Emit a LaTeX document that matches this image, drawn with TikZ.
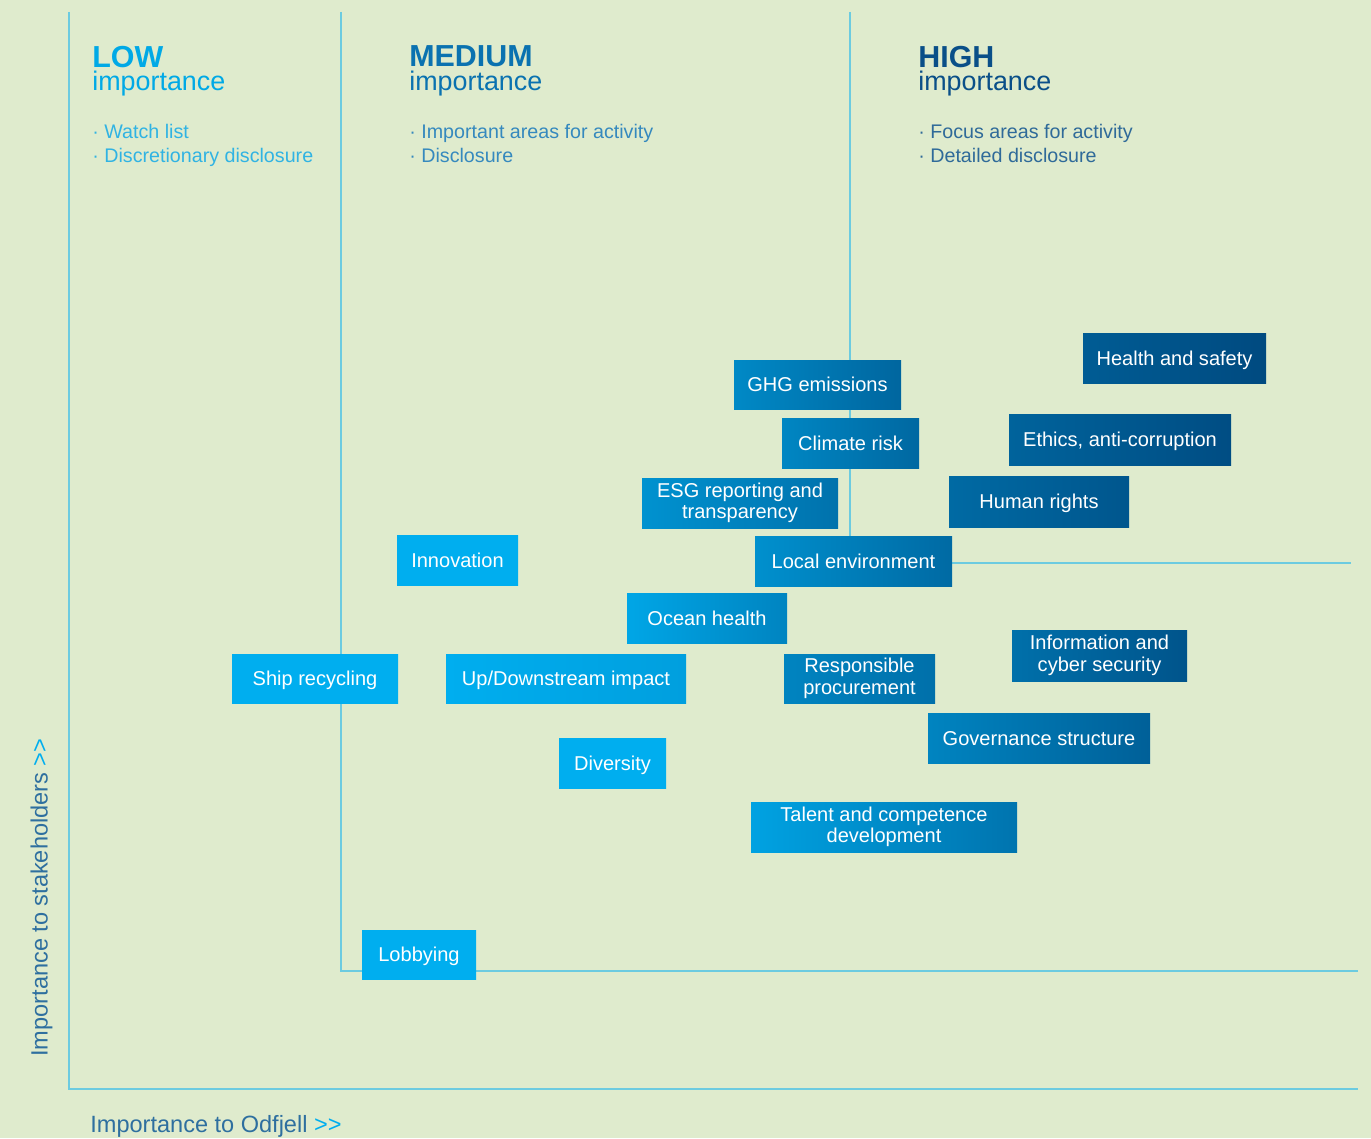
\documentclass[tikz,border=0pt]{standalone}
\usepackage{fontspec}
\setmainfont{Liberation Sans}

\definecolor{bgGreen}{HTML}{DFEBCD}
\definecolor{gridCyan}{HTML}{6CCBE0}
\definecolor{cyanBox}{HTML}{00AEEF}
\definecolor{darkBox}{HTML}{004A80}
\definecolor{lowBlue}{HTML}{00A9E6}
\definecolor{lowText}{HTML}{30B3E3}
\definecolor{medBlue}{HTML}{0A72B0}
\definecolor{medText}{HTML}{3589BE}
\definecolor{highBlue}{HTML}{0A4F88}
\definecolor{highText}{HTML}{2F6A99}
\definecolor{axisText}{HTML}{2E6F9F}

\newcommand{\boxFont}{\fontsize{11.4}{12.3}\selectfont}
\newcommand{\headFont}{\fontsize{17.3}{18}\selectfont\bfseries}
\newcommand{\subFont}{\fontsize{15.3}{13.6}\selectfont}
\newcommand{\itemFont}{\fontsize{11.2}{12}\selectfont}
\newcommand{\axisFont}{\fontsize{13.4}{14}\selectfont}
\newcommand{\moreArrows}{\textcolor{cyanBox}{>{}>}}

\begin{document}
\begin{tikzpicture}
[x=0.02cm, y=-0.02cm,
  gridLine/.style={draw=gridCyan, line width=1.1pt},
  boxDecorate/.style={inner sep=0pt, text=white, align=center, font=\boxFont},
  oneLine/.style={text depth=0pt},
  twoLine/.style={},
  headDecorate/.style={anchor=north west, inner sep=0pt, align=left, font=\subFont},
  itemDecorate/.style={anchor=base west, inner sep=0pt, font=\itemFont},
  axisLabel/.style={anchor=base west, inner sep=0pt, text=axisText, font=\axisFont}]
%% background
\fill[bgGreen] (0,0) rectangle (1371,1138);
%% region borders
\coordinate (axisTop) at (69,12);
\coordinate (axisEnd) at (1358,1089);
\coordinate (midTop) at (341,12);
\coordinate (midEnd) at (1358,971);
\coordinate (highTop) at (850,12);
\coordinate (highEnd) at (1351,563);
\draw[gridLine] (axisTop) |- (axisEnd);
\draw[gridLine] (midTop) |- (midEnd);
\draw[gridLine] (highTop) |- (highEnd);
%% column headings
\foreach \colname/\x/\headcol/\bulletcol/\head/\itemA/\itemB in {
  low/92/lowBlue/lowText/LOW/{Watch list}/{Discretionary disclosure},
  medium/409/medBlue/medText/MEDIUM/{Important areas for activity}/{Disclosure},
  high/918/highBlue/highText/HIGH/{Focus areas for activity}/{Detailed disclosure}}
{
  \node (\colname Head) at (\x,45.5) [headDecorate, text=\headcol] {{\headFont\head}\\importance};
  \node (\colname ItemA) at (\x,138.5) [itemDecorate, text=\bulletcol] {· \itemA};
  \node (\colname ItemB) at (\x,162.5) [itemDecorate, text=\bulletcol] {· \itemB};
}
%% topics
\foreach \boxname/\cx/\cy/\bw/\bh/\lft/\rgt/\lines/\boxtext in {
  ghg/817.5/384.5/167/49/37/72/oneLine/{GHG emissions},
  climate/850.5/443/137/50/40/70/oneLine/{Climate risk},
  esg/740/503/196/50/28/60/twoLine/{ESG reporting and\\transparency},
  localEnv/853.5/561/197/50/30/68/oneLine/{Local environment},
  ocean/707/618/160/50/8/42/oneLine/{Ocean health},
  procurement/859.5/678.5/151/49/42/62/twoLine/{Responsible\\procurement},
  upDown/566/678.5/240/49/0/15/oneLine/{Up/Downstream impact},
  shipRecycling/315/678.5/166/49/0/0/oneLine/{Ship recycling},
  innovation/457.5/560/121/50/0/0/oneLine/{Innovation},
  diversity/612.5/763/107/50/0/0/oneLine/{Diversity},
  talent/884/827/266/50/12/58/twoLine/{Talent and competence\\development},
  governance/1039/738/222/50/42/78/oneLine/{Governance structure},
  infoSecurity/1099.5/655.5/175/51/62/90/twoLine/{Information and\\cyber security},
  healthSafety/1174.5/358/183/50/82/100/oneLine/{Health and safety},
  ethics/1120/439.5/222/51/75/97/oneLine/{Ethics, anti-corruption},
  humanRights/1039/501.5/180/51/68/88/oneLine/{Human rights},
  lobbying/419/954.5/114/49/0/0/oneLine/{Lobbying}}
{
  \node (\boxname) at (\cx,\cy) [boxDecorate, \lines,
    minimum width=\bw*0.02cm, minimum height=\bh*0.02cm,
    left color=darkBox!\lft!cyanBox, right color=darkBox!\rgt!cyanBox] {\boxtext};
}
%% axis labels
\node (yLabel) at (47.5,1057) [axisLabel, rotate=90] {Importance to stakeholders \moreArrows};
\node (xLabel) at (90,1132.5) [axisLabel] {Importance to Odfjell \moreArrows};
\end{tikzpicture}
\end{document}
